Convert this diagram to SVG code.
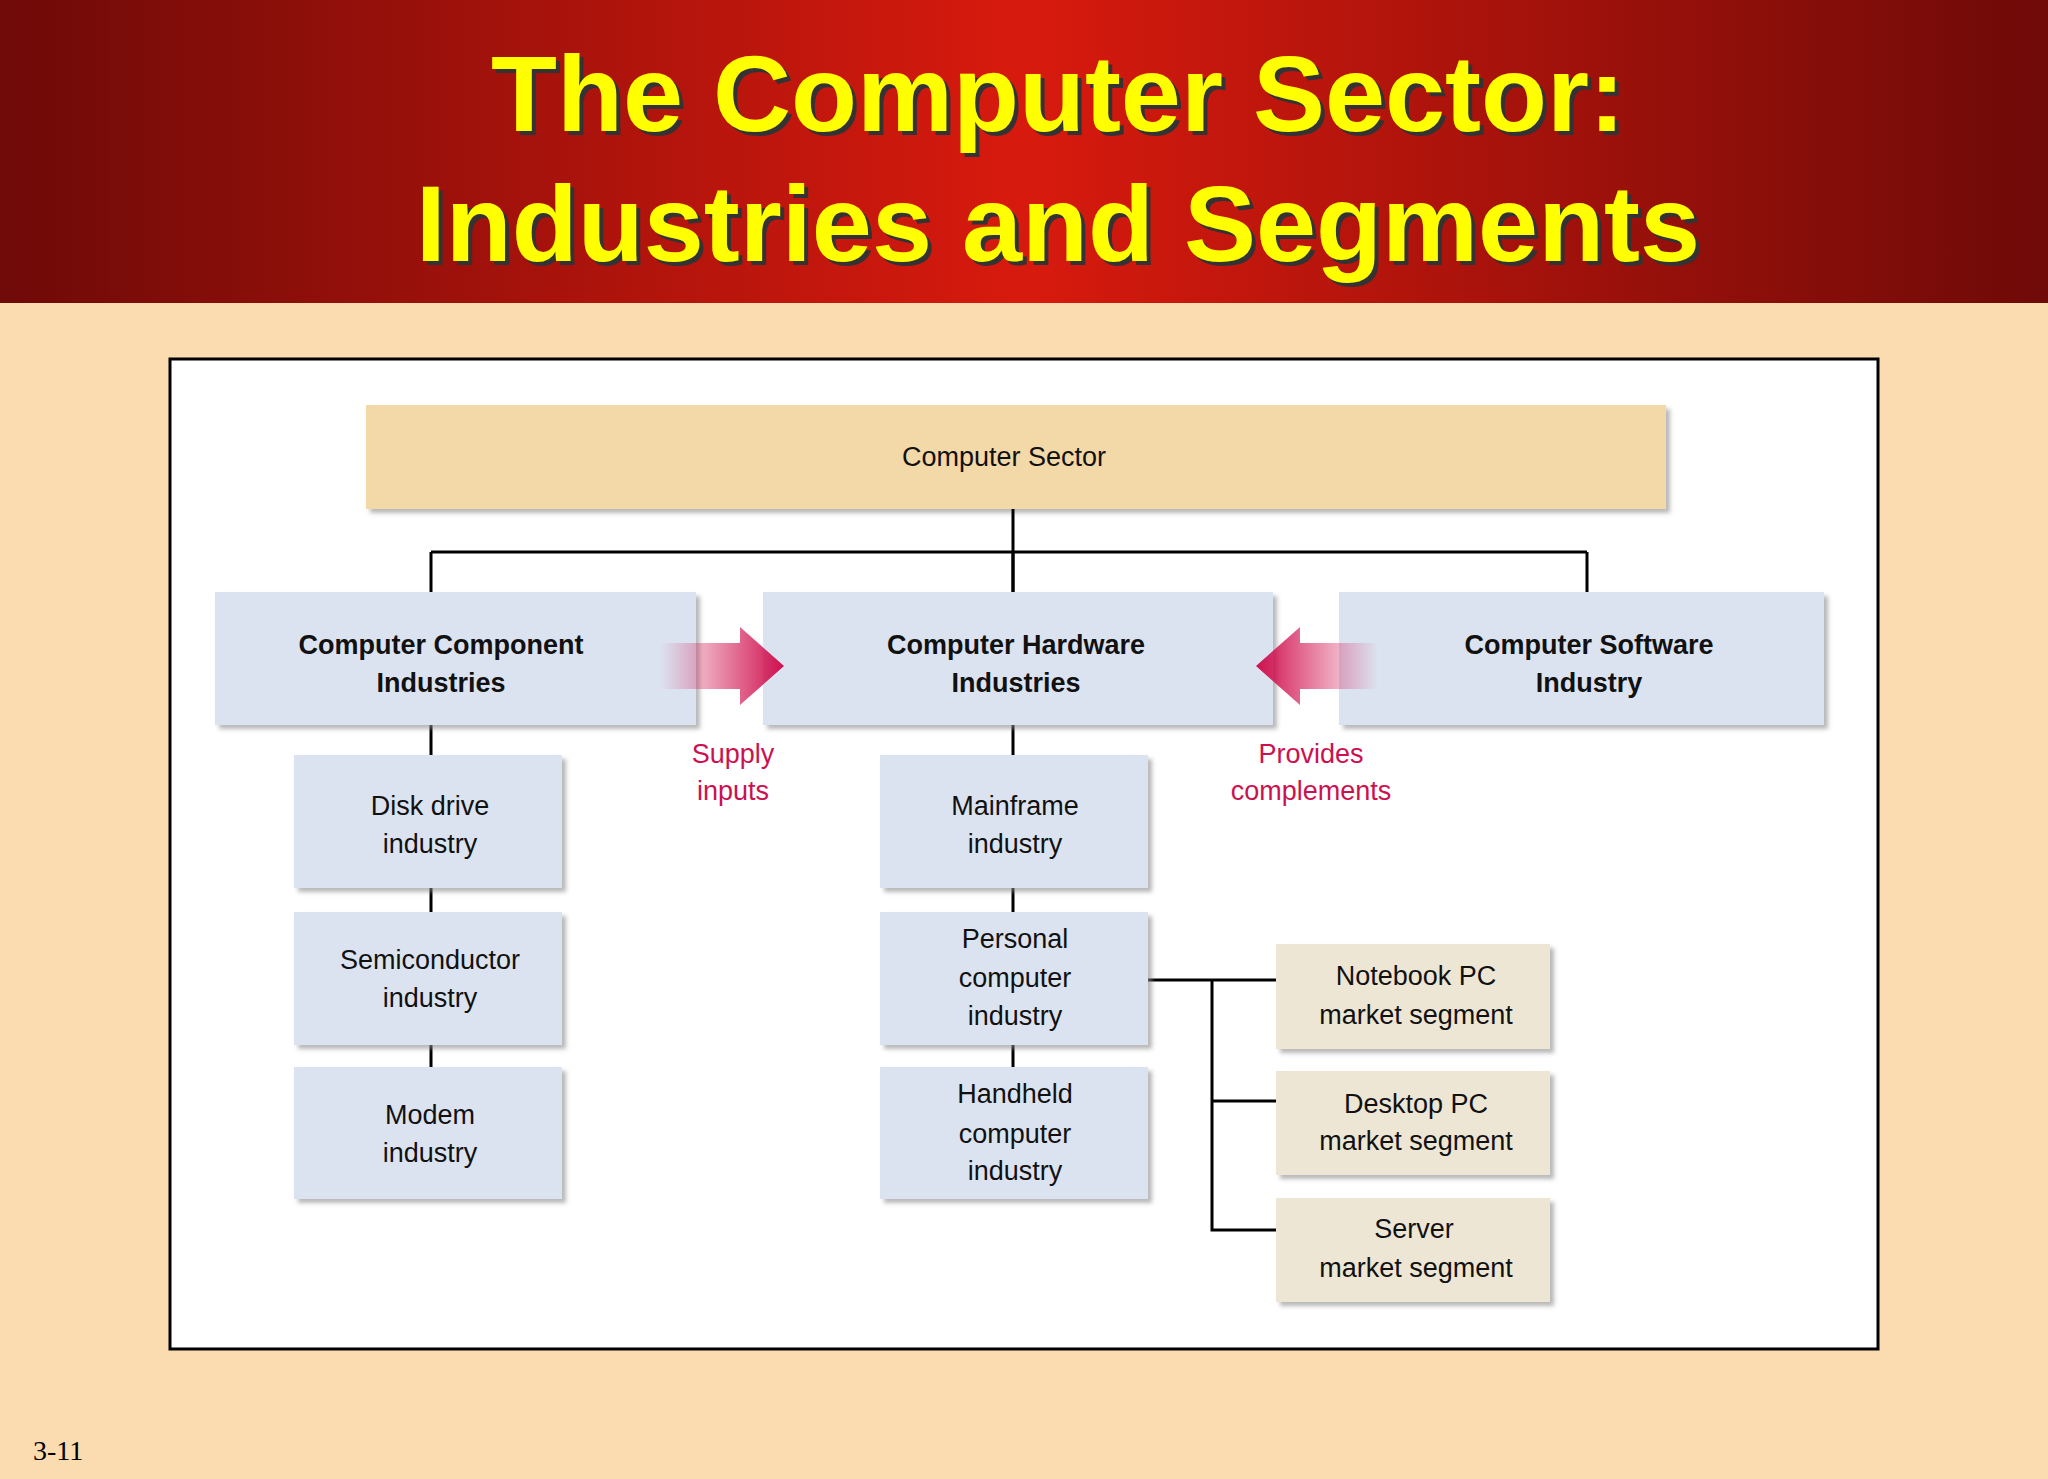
<svg xmlns="http://www.w3.org/2000/svg" width="2048" height="1479" viewBox="0 0 2048 1479">
<defs>
<linearGradient id="hdr" x1="0" y1="0" x2="1" y2="0">
<stop offset="0" stop-color="#6e0a08"/><stop offset="0.5" stop-color="#d81a0e"/><stop offset="1" stop-color="#6e0a08"/>
</linearGradient>
<linearGradient id="pr" x1="0" y1="0" x2="1" y2="0">
<stop offset="0" stop-color="#d0104e" stop-opacity="0"/><stop offset="1" stop-color="#d0104e"/>
</linearGradient>
<linearGradient id="pl" x1="1" y1="0" x2="0" y2="0">
<stop offset="0" stop-color="#d0104e" stop-opacity="0"/><stop offset="1" stop-color="#d0104e"/>
</linearGradient>
<filter id="sh" x="-5%" y="-5%" width="115%" height="120%"><feDropShadow dx="4" dy="4" stdDeviation="2" flood-color="#888" flood-opacity="0.6"/></filter>
<marker id="ah" viewBox="0 0 12 10" refX="6" refY="9" markerWidth="12" markerHeight="10" markerUnits="userSpaceOnUse" orient="auto-start-reverse">
<path d="M0,0 L6,9 L12,0" fill="none" stroke="#000" stroke-width="3"/>
</marker>
<style>
.t{font-family:"Liberation Sans",Arial,sans-serif;font-size:27px;fill:#111;text-anchor:middle}
.b{font-weight:bold}
.l{fill:#cc1150}
.c{stroke:#000;stroke-width:3;fill:none}
.blue{fill:#dce3f0;filter:url(#sh)}
.seg{fill:#ede6d5;filter:url(#sh)}
</style>
</defs>
<rect width="2048" height="1479" fill="#fbdcb0"/>
<rect width="2048" height="303" fill="url(#hdr)"/>
<g font-family="'Liberation Sans',Arial,sans-serif" font-weight="bold" font-size="108" text-anchor="middle">
<text x="1062" y="135" fill="#333">The Computer Sector:</text>
<text x="1058" y="131" fill="#ffff00">The Computer Sector:</text>
<text x="1062" y="265" fill="#333">Industries and Segments</text>
<text x="1058" y="261" fill="#ffff00">Industries and Segments</text>
</g>
<rect x="170" y="359" width="1708" height="990" fill="#fff" stroke="#000" stroke-width="3"/>
<g id="sector"><rect x="366" y="405" width="1300" height="104" fill="#f3d8a8" filter="url(#sh)"/><text class="t" x="1004" y="466">Computer Sector</text></g>
<g id="connectors">
<path class="c" d="M1013,509 V612"/>
<path class="c" d="M431,552 H1587"/>
<path class="c" d="M431,552 V618" marker-end="url(#ah)"/>
<path class="c" d="M1013,552 V618" marker-end="url(#ah)"/>
<path class="c" d="M1587,552 V618" marker-end="url(#ah)"/>
<path class="c" d="M431,725 V755 M431,888 V912 M431,1045 V1067"/>
<path class="c" d="M1013,725 V755 M1013,888 V912 M1013,1045 V1067"/>
<path class="c" d="M1148,980 H1276 M1212,980 V1230 H1276 M1212,1101 H1276"/>
</g>
<g id="comp"><rect class="blue" x="215" y="592" width="481" height="133"/><text class="t b" x="441" y="654">Computer Component</text><text class="t b" x="441" y="692">Industries</text></g>
<g id="hard"><rect class="blue" x="763" y="592" width="510" height="133"/><text class="t b" x="1016" y="654">Computer Hardware</text><text class="t b" x="1016" y="692">Industries</text></g>
<g id="soft"><rect class="blue" x="1339" y="592" width="485" height="133"/><text class="t b" x="1589" y="654">Computer Software</text><text class="t b" x="1589" y="692">Industry</text></g>
<g id="supply"><path d="M660,643 H740 V627 L784,666 L740,705 V689 H660 Z" fill="url(#pr)"/><text class="t l" x="733" y="763">Supply</text><text class="t l" x="733" y="800">inputs</text></g>
<g id="provides"><path d="M1378,643 H1300 V627 L1256,666 L1300,705 V689 H1378 Z" fill="url(#pl)"/><text class="t l" x="1311" y="763">Provides</text><text class="t l" x="1311" y="800">complements</text></g>
<g id="disk"><rect class="blue" x="294" y="755" width="268" height="133"/><text class="t" x="430" y="815">Disk drive</text><text class="t" x="430" y="853">industry</text></g>
<g id="semi"><rect class="blue" x="294" y="912" width="268" height="133"/><text class="t" x="430" y="969">Semiconductor</text><text class="t" x="430" y="1007">industry</text></g>
<g id="modem"><rect class="blue" x="294" y="1067" width="268" height="132"/><text class="t" x="430" y="1124">Modem</text><text class="t" x="430" y="1162">industry</text></g>
<g id="main"><rect class="blue" x="880" y="755" width="268" height="133"/><text class="t" x="1015" y="815">Mainframe</text><text class="t" x="1015" y="853">industry</text></g>
<g id="pc"><rect class="blue" x="880" y="912" width="268" height="133"/><text class="t" x="1015" y="948">Personal</text><text class="t" x="1015" y="987">computer</text><text class="t" x="1015" y="1025">industry</text></g>
<g id="hand"><rect class="blue" x="880" y="1067" width="268" height="132"/><text class="t" x="1015" y="1103">Handheld</text><text class="t" x="1015" y="1143">computer</text><text class="t" x="1015" y="1180">industry</text></g>
<g id="note"><rect class="seg" x="1276" y="944" width="274" height="105"/><text class="t" x="1416" y="985">Notebook PC</text><text class="t" x="1416" y="1024">market segment</text></g>
<g id="desk"><rect class="seg" x="1276" y="1071" width="274" height="104"/><text class="t" x="1416" y="1113">Desktop PC</text><text class="t" x="1416" y="1150">market segment</text></g>
<g id="server"><rect class="seg" x="1276" y="1198" width="274" height="104"/><text class="t" x="1414" y="1238">Server</text><text class="t" x="1416" y="1277">market segment</text></g>
<text x="33" y="1460" font-family="'Liberation Serif',serif" font-size="28" fill="#000">3-11</text>
</svg>
